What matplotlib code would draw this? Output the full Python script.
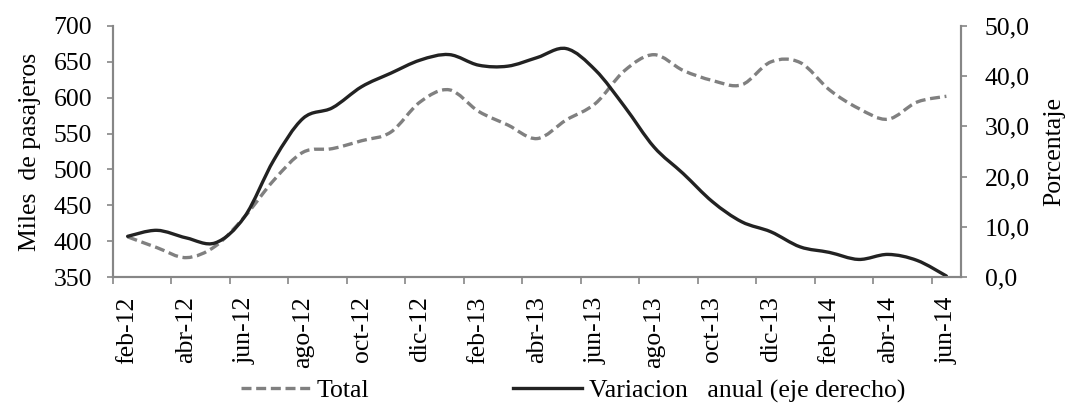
import numpy as np
import matplotlib
matplotlib.use("Agg")
import matplotlib.pyplot as plt
from matplotlib.path import Path
from matplotlib.patches import PathPatch
from matplotlib.lines import Line2D

plt.rcParams["font.family"] = ["Liberation Serif", "DejaVu Serif"]

months = [
    "feb-12", "mar-12", "abr-12", "may-12", "jun-12", "jul-12", "ago-12", "sep-12",
    "oct-12", "nov-12", "dic-12", "ene-13", "feb-13", "mar-13", "abr-13", "may-13",
    "jun-13", "jul-13", "ago-13", "sep-13", "oct-13", "nov-13", "dic-13", "ene-14",
    "feb-14", "mar-14", "abr-14", "may-14", "jun-14",
]
# miles de pasajeros
total = [406, 391, 377, 393, 434, 485, 524, 529, 540, 552, 594, 611, 581, 562,
         543, 569, 592, 638, 660, 638, 624, 618, 650, 649, 611, 585, 570, 594, 602]
# variacion anual, %
variacion = [8.1, 9.3, 7.8, 6.8, 12.0, 23.3, 31.6, 33.7, 37.9, 40.6, 43.2, 44.3, 42.2,
             42.0, 43.7, 45.5, 41.2, 33.9, 25.9, 20.6, 15.0, 11.0, 9.0, 6.0, 4.9, 3.5,
             4.5, 3.3, 0.2]

left_ticks = [350, 400, 450, 500, 550, 600, 650, 700]
right_ticks = [0, 10, 20, 30, 40, 50]

AXIS_GRAY = "#868686"
TOTAL_COLOR = "#808080"
VAR_COLOR = "#222222"
FS = 18.5


def smooth_path(x, y):
    """Catmull-Rom style Bezier through every point (like a smoothed line chart)."""
    pts = np.column_stack([x, y]).astype(float)
    ext = np.vstack([pts[0], pts, pts[-1]])
    verts = [pts[0]]
    codes = [Path.MOVETO]
    for i in range(len(pts) - 1):
        p0, p1, p2, p3 = ext[i], ext[i + 1], ext[i + 2], ext[i + 3]
        verts += [p1 + (p2 - p0) / 6.0, p2 - (p3 - p1) / 6.0, p2]
        codes += [Path.CURVE4] * 3
    return Path(verts, codes)


x = np.arange(len(months))
dash = (0, (3.0, 1.4))

fig = plt.figure(figsize=(10.69, 4.03), dpi=100)
ax = fig.add_axes([113 / 1069, 1 - 277 / 403, (961 - 113) / 1069, (277 - 26) / 403])
ax2 = ax.twinx()

ax.add_patch(PathPatch(smooth_path(x, total), fill=False, edgecolor=TOTAL_COLOR,
                       lw=2.4, linestyle=dash, capstyle="butt"))
ax2.add_patch(PathPatch(smooth_path(x, variacion), fill=False, edgecolor=VAR_COLOR,
                        lw=2.4, capstyle="round"))

ax.set_xlim(-0.5, len(months) - 0.5)
ax.set_ylim(350, 700)
ax2.set_ylim(0, 50)

# tick marks between categories, labels on every other month
ax.set_xticks(np.arange(-0.5, len(months) - 1, 2))
ax.set_xticklabels([])
ax.set_xticks(x[::2], minor=True)
ax.set_xticklabels(months[::2], minor=True, rotation=90, fontsize=FS)
ax.tick_params(axis="x", which="major", length=5, width=1.2, color=AXIS_GRAY, direction="out")
ax.tick_params(axis="x", which="minor", length=0, pad=14)

ax.set_yticks(left_ticks)
ax.set_yticklabels([str(v) for v in left_ticks], fontsize=FS)
ax.tick_params(axis="y", length=4, width=1.2, color=AXIS_GRAY, pad=11)

ax2.set_yticks(right_ticks)
ax2.set_yticklabels([f"{v:.1f}".replace(".", ",") for v in right_ticks], fontsize=FS)
ax2.tick_params(axis="y", length=4, width=1.2, color=AXIS_GRAY, pad=13)

for a in (ax, ax2):
    a.spines["top"].set_visible(False)
    for side in ("left", "right", "bottom"):
        a.spines[side].set_color(AXIS_GRAY)
        a.spines[side].set_linewidth(1.5)

ax.set_ylabel("Miles  de pasajeros", fontsize=FS, labelpad=9)
ax2.set_ylabel("Porcentaje", fontsize=FS, labelpad=10)

handles = [
    Line2D([], [], color=TOTAL_COLOR, lw=2.4, linestyle=dash),
    Line2D([], [], color=VAR_COLOR, lw=2.4),
]
fig.legend(handles, ["Total", "Variacion   anual (eje derecho)"], loc="center",
           bbox_to_anchor=(573 / 1069, 1 - 391 / 403), ncol=2, frameon=False,
           fontsize=FS, handlelength=2.7, handletextpad=0.25, columnspacing=5.6,
           borderpad=0, borderaxespad=0)

fig.savefig("out.png", dpi=100)
